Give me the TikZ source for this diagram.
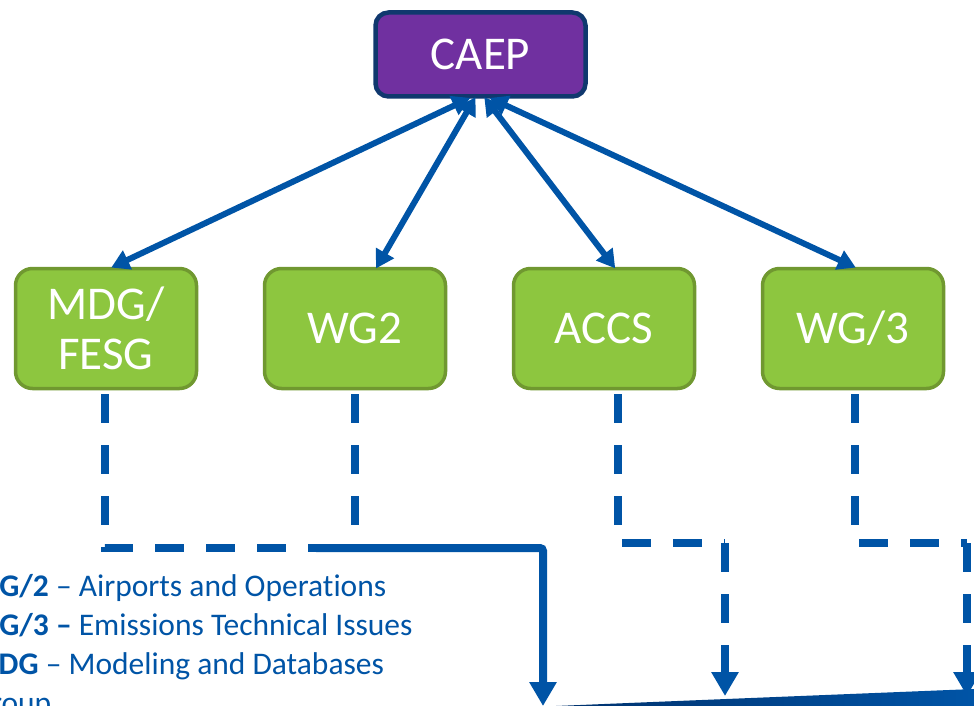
\documentclass[tikz,border=0pt]{standalone}
\usepackage{fontspec}
\setmainfont{Carlito}[Ligatures=NoCommon]
\usetikzlibrary{arrows.meta,calc}
\definecolor{arrowblue}{RGB}{0,84,166}
\definecolor{caepfill}{RGB}{112,48,160}
\definecolor{caepline}{RGB}{16,56,110}
\definecolor{gfill}{RGB}{141,198,63}
\definecolor{gline}{RGB}{112,152,48}
\definecolor{navy}{RGB}{0,50,110}
\tikzset{
  topbox/.style={draw=caepline, line width=4.5pt, fill=caepfill, rounded corners=13pt,
    minimum width=210pt, minimum height=84pt, text=white, font=\fontsize{47}{50}\selectfont, inner sep=0pt},
  wgbox/.style={draw=gline, line width=3.5pt, fill=gfill, rounded corners=17pt,
    minimum width=181pt, minimum height=120pt, text=white, align=center,
    font=\fontsize{47}{50}\selectfont, inner sep=0pt},
  link/.style={draw=arrowblue, line width=6pt, {Triangle[length=18pt,width=20pt]}-{Triangle[length=18pt,width=20pt]}, shorten <=-2pt, shorten >=-2pt},
  flow/.style={draw=arrowblue, line width=8pt, dash pattern=on 29pt off 22pt},
  solidflow/.style={draw=arrowblue, line width=8pt},
  tip/.style={-{Triangle[length=24pt,width=26pt]}},
  legend/.style={text=arrowblue, align=left, anchor=north west, inner sep=0pt,
    font=\fontsize{31.5}{39}\selectfont}
}
\begin{document}
\begin{tikzpicture}[x=1pt,y=-1pt]
\useasboundingbox (0,0) rectangle (974,706);
\node[topbox] (caep) at (480.5,54.5) {CAEP};
\node[wgbox] (mdg) at (106,328.5) {MDG/\\FESG};
\node[wgbox] (wg2) at (355,328.5) {WG2};
\node[wgbox] (accs) at (604,328.5) {ACCS};
\node[wgbox] (wg3) at (853,328.5) {WG/3};

% double-headed links
\draw[link] ($(caep.south)+(-12,0)$) -- ($(mdg.north)+(7,0)$);
\draw[link] ($(caep.south)+(-6,0)$) -- ($(wg2.north)+(22,0)$);
\draw[link] ($(caep.south)+(5,0)$) -- ($(accs.north)+(10,0)$);
\draw[link] ($(caep.south)+(11,0)$) -- ($(wg3.north)+(1,0)$);

% dashed flows
\coordinate (e1) at (543,706);
\coordinate (e2) at (725,696);
\coordinate (e3) at (967,696);
\draw[flow] ($(mdg.south)+(-1,4)$) |- (320,548);
\draw[flow] ($(wg2.south)+(0,4)$) -- (355,548);
\draw[solidflow, tip, rounded corners=3pt] (316,548) -| (e1);
\draw[flow] ($(accs.south)+(14,4)$) |- (725,543);
\draw[flow, tip] (725,543) -- (e2);
\draw[flow] ($(wg3.south)+(2,4)$) |- (967,543);
\draw[flow, tip] (967,543) -- (e3);

% legend
\node[legend] (lg) at (-29,574) {\textbf{WG/2} -- Airports and Operations\\
\textbf{WG/3 --} Emissions Technical Issues\\
\textbf{MDG} -- Modeling and Databases\\
Group};

% swoosh
\shade[left color=navy, right color=arrowblue]
  (556,706) .. controls (700,700) and (850,694) .. (974,689) -- (974,706) -- cycle;
\end{tikzpicture}
\end{document}
